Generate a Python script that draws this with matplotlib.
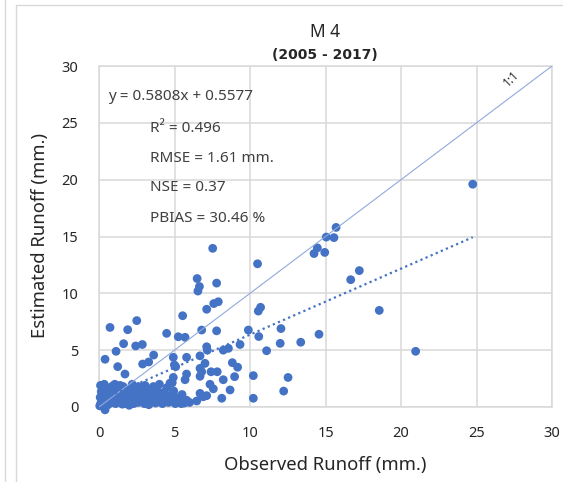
import matplotlib
matplotlib.use("Agg")
import matplotlib.pyplot as plt
from matplotlib.lines import Line2D
from matplotlib.patches import Rectangle
import numpy as np

plt.rcParams['font.family'] = ['Noto Sans', 'DejaVu Sans']

# Observed / estimated runoff (mm.)
observed = [
    24.75, 15.7, 15.05, 15.56, 14.46, 14.24, 14.95, 17.24, 16.67, 18.56, 14.57, 13.36, 12.0, 12.05, 20.97, 12.52, 12.23,
    7.53, 10.5, 6.5, 6.65, 6.55, 7.79, 7.6, 7.9, 7.13, 10.7, 10.55, 6.8, 7.79, 9.89, 10.58, 9.34, 7.13, 7.17, 8.23, 8.57,
    11.1, 6.69, 7.02, 8.83, 9.18, 6.69, 6.8, 6.69, 7.42, 7.83, 8.98, 10.22, 8.23, 7.35, 7.57, 8.68, 6.69, 6.9, 7.13, 8.13,
    10.22, 0.4, 0.73, 1.9, 2.5, 1.13, 1.63, 2.43, 2.87, 1.24, 1.72, 2.89, 3.29, 3.62, 4.48, 5.54, 5.25, 5.7, 4.92, 4.99,
    5.08, 5.8, 5.8, 5.7, 4.92, 4.85, 6.47,
    0.05, 0.12, 0.2, 0.08, 0.3, 0.15, 0.25, 0.1, 0.35, 0.4, 0.45, 0.5, 0.55, 0.6, 0.7, 0.75, 0.85, 0.9, 1.0, 1.05, 1.1,
    1.2, 1.3, 1.35, 1.45, 1.55, 1.6, 1.7, 1.8, 1.9, 1.95, 2.05, 2.1, 2.2, 2.3, 2.35, 2.45, 2.55, 2.6, 2.7, 2.8, 2.9, 3.0,
    3.05, 3.15, 3.25, 3.35, 3.45, 3.55, 3.65, 3.75, 3.85, 3.95, 4.05, 4.2, 4.3, 4.4, 4.5, 4.6, 4.7, 4.85, 4.95, 5.05, 5.2,
    5.35, 5.5, 5.65, 5.8, 6.0, 0.2, 0.6, 1.4, 2.0, 2.6, 3.3, 4.0, 0.9, 1.6, 2.95, 3.9, 0.35, 1.15, 2.7, 3.6, 4.7,
    0.5, 1.25, 1.75, 2.25, 3.1, 3.5, 4.15, 4.55, 5.0, 5.45, 0.3, 1.0, 2.4,
]
estimated = [
    19.6, 15.8, 14.95, 14.9, 14.0, 13.5, 13.6, 12.0, 11.2, 8.5, 6.4, 5.7, 5.6, 6.9, 4.9, 2.6, 1.4,
    13.96, 12.6, 11.3, 10.6, 10.2, 10.9, 9.1, 9.26, 8.6, 8.77, 8.44, 6.77, 6.7, 6.77, 6.2, 5.5, 5.3, 5.0, 5.0, 5.16,
    4.95, 4.5, 3.84, 3.9, 3.5, 3.4, 3.1, 2.7, 3.1, 3.1, 2.67, 2.76, 2.4, 2.0, 1.6, 1.5, 1.2, 0.9, 1.0, 0.77,
    0.77, 4.2, 7.0, 6.8, 7.6, 4.9, 5.57, 5.37, 5.5, 3.55, 2.9, 3.78, 3.96, 4.57, 6.48, 8.03, 6.18, 6.13, 4.37, 3.7,
    3.55, 4.37, 2.9, 2.4, 2.6, 2.14, 0.53,
    0.1, 0.35, 0.6, 0.85, 1.1, 1.35, 1.6, 1.9, 2.0, -0.25, 0.5, 0.8, 1.3, 0.2, 1.0, 1.7, 0.4, 0.7, 1.2, 2.0, 0.3,
    0.9, 1.5, 0.5, 1.1, 0.25, 1.8, 0.7, 1.3, 0.35, 0.95, 1.6, 0.55, 2.0, 0.3, 1.2, 0.8, 1.55, 0.4, 1.0, 0.6, 1.4, 0.3,
    1.9, 0.85, 1.2, 0.45, 1.6, 0.7, 1.05, 0.35, 1.45, 0.6, 0.9, 0.3, 1.3, 0.65, 1.7, 0.4, 1.0, 0.5, 1.4, 0.3, 0.8,
    0.45, 1.1, 0.35, 0.6, 0.4, 0.2, 1.5, 1.9, 0.15, 1.8, 0.2, 2.0, 1.85, 0.6, 0.7, 1.2, 0.7, 1.6, 1.75, 1.8, 2.1,
    0.25, 0.55, 0.3, 0.75, 0.55, 1.0, 0.5, 0.95, 0.65, 0.3, 1.0, 0.55, 0.45,
]

slope, intercept = 0.5808, 0.5577
axis_ticks = [0, 5, 10, 15, 20, 25, 30]
stats_lines = ["R² = 0.496", "RMSE = 1.61 mm.", "NSE = 0.37", "PBIAS = 30.46 %"]

W, H = 563, 482
fig = plt.figure(figsize=(W / 100, H / 100), dpi=100)
fig.patch.set_facecolor('white')

# chart frame lines
fig.add_artist(Line2D([5 / W, 5 / W], [0, 1], color='#D9D9D9', lw=1.0, transform=fig.transFigure))
fig.add_artist(Rectangle((16 / W, -0.05), 1.0, 1 - 5 / H + 0.05, fill=False, edgecolor='#D9D9D9',
                         lw=1.0, transform=fig.transFigure))

left, right, top, bottom = 99 / W, 552 / W, 66 / H, 407 / H
ax = fig.add_axes([left, 1 - bottom, right - left, bottom - top])

ax.set_xlim(0, 30)
ax.set_ylim(0, 30)
ax.set_xticks(axis_ticks)
ax.set_yticks(axis_ticks)
ax.grid(True, color='#D9D9D9', lw=1.1)
ax.set_axisbelow(True)
for s in ax.spines.values():
    s.set_color('#D9D9D9')
    s.set_linewidth(1.1)
ax.tick_params(length=0, labelsize=10.5, colors='#262626')
ax.tick_params(axis='x', pad=14)
ax.tick_params(axis='y', pad=15)

ax.scatter(observed, estimated, s=40, color='#4472C4', edgecolors='none', zorder=3, clip_on=False)

# 1:1 line
ax.plot([0, 30], [0, 30], color='#8FAADC', lw=0.8, zorder=4)
# trendline
xt = np.array([min(observed), max(observed)])
ax.plot(xt, slope * xt + intercept, color='#4472C4', lw=1.6, ls=(0, (1, 1.5)), zorder=4)

ax.text(27.3, 28.9, "1:1", rotation=45, fontsize=8.5, color='#262626', ha='center', va='center')

ax.text(0.6, 27.3, "y = 0.5808x + 0.5577", fontsize=11, color='#404040', va='center')
ys = [24.5, 21.9, 19.3, 16.6]
for t, yy in zip(stats_lines, ys):
    ax.text(3.4, yy, t, fontsize=11, color='#404040', va='center')

fig.text(325 / W, 1 - 32 / H, "M 4", fontsize=12.5, ha='center', va='center', color='#262626')
fig.text(325 / W, 1 - 55 / H, "(2005 - 2017)", fontsize=10, fontweight='bold', ha='center', va='center',
         color='#262626', family=['DejaVu Sans'])
fig.text(325 / W, 1 - 465 / H, "Observed Runoff (mm.)", fontsize=13.3, ha='center', va='center', color='#262626')
fig.text(40 / W, 1 - 236 / H, "Estimated Runoff (mm.)", fontsize=13.3, ha='center', va='center', rotation=90,
         color='#262626')

fig.savefig("out.png", dpi=100)
